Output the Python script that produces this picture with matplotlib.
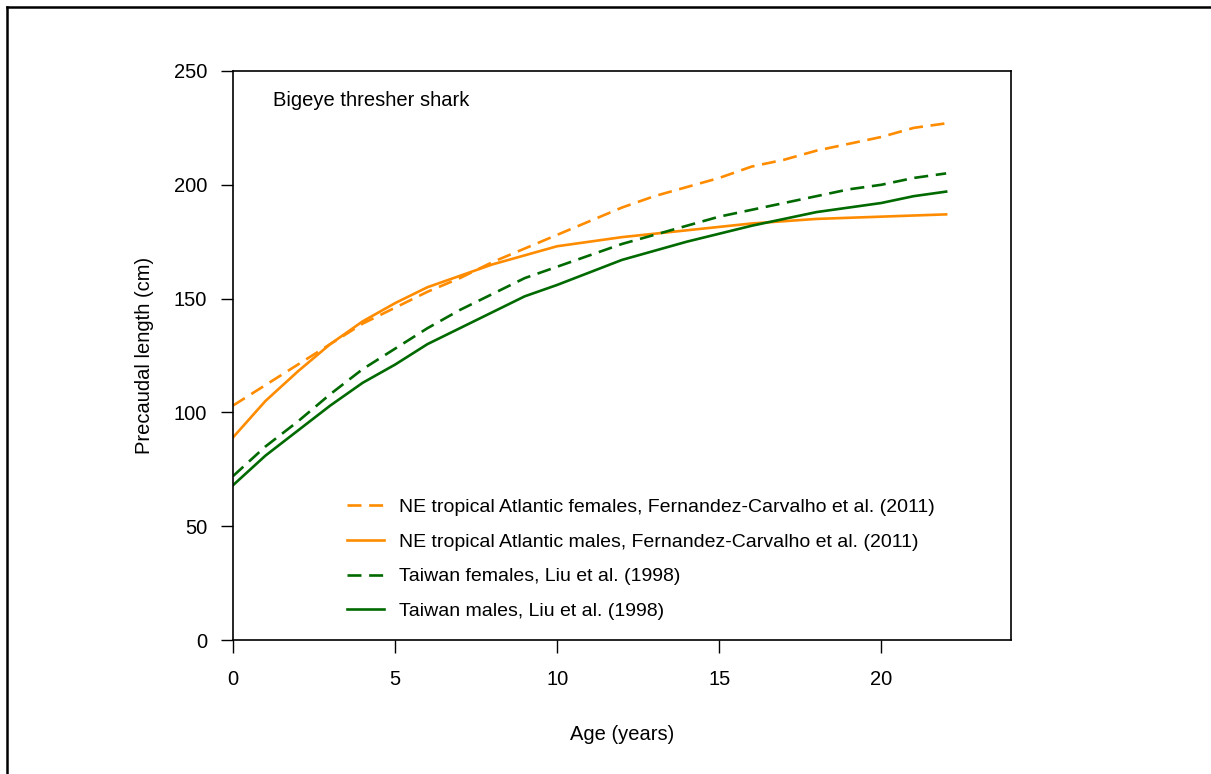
import matplotlib
matplotlib.use("Agg")
import matplotlib.pyplot as plt
from matplotlib.lines import Line2D

plt.rcParams['font.family'] = ['Liberation Sans', 'DejaVu Sans']

# Growth curves (precaudal length, cm) by age (years)
age_f_atl = [0, 1, 2, 3, 4, 5, 6, 7, 8, 9, 10, 11, 12, 13, 14, 15, 16, 17, 18, 19, 20, 21, 22]
len_f_atl = [103, 112, 121, 130, 139, 146, 153, 159, 166, 172, 178, 184, 190, 195, 199, 203, 208, 211, 215, 218, 221, 225, 227]

age_m_atl = [0, 1, 2, 3, 4, 5, 6, 7, 8, 9, 10, 12, 14, 16, 18, 20, 22]
len_m_atl = [89, 105, 118, 130, 140, 148, 155, 160, 165, 169, 173, 177, 180, 183, 185, 186, 187]

age_f_tw = [0, 1, 2, 3, 4, 5, 6, 7, 8, 9, 10, 11, 12, 13, 14, 15, 16, 17, 18, 19, 20, 21, 22]
len_f_tw = [72, 85, 96, 108, 119, 128, 137, 145, 152, 159, 164, 169, 174, 178, 182, 186, 189, 192, 195, 198, 200, 203, 205]

age_m_tw = [0, 1, 2, 3, 4, 5, 6, 7, 8, 9, 10, 12, 14, 16, 18, 20, 21, 22]
len_m_tw = [68, 81, 92, 103, 113, 121, 130, 137, 144, 151, 156, 167, 175, 182, 188, 192, 195, 197]

labels = [
    "NE tropical Atlantic females, Fernandez-Carvalho et al. (2011)",
    "NE tropical Atlantic males, Fernandez-Carvalho et al. (2011)",
    "Taiwan females, Liu et al. (1998)",
    "Taiwan males, Liu et al. (1998)",
]

xticks = [0, 5, 10, 15, 20]
yticks = [0, 50, 100, 150, 200, 250]

orange = "#ff8c00"
green = "#006a00"

fig = plt.figure(figsize=(12.11, 7.74), dpi=100)
ax = fig.add_axes([0.1924, 0.1731, 0.8348 - 0.1924, 0.9083 - 0.1731])

lw = 1.9
dash = (5.3, 2.9)
ax.plot(age_f_atl, len_f_atl, color=orange, lw=lw, dashes=dash, label=labels[0])
ax.plot(age_m_atl, len_m_atl, color=orange, lw=lw, label=labels[1])
ax.plot(age_f_tw, len_f_tw, color=green, lw=lw, dashes=dash, label=labels[2])
ax.plot(age_m_tw, len_m_tw, color=green, lw=lw, label=labels[3])

ax.set_xlim(0, 24)
ax.set_ylim(0, 250)
ax.set_xticks(xticks)
ax.set_yticks(yticks)
ax.tick_params(axis='both', direction='out', labelsize=14.5, width=1.0)
ax.tick_params(axis='x', length=9.5, pad=12)
ax.tick_params(axis='y', length=8.5, pad=10)
for s in ax.spines.values():
    s.set_linewidth(1.2)

ax.set_xlabel("Age (years)", fontsize=14.5, labelpad=26)
ax.set_ylabel("Precaudal length (cm)", fontsize=14.5, labelpad=14)

ax.text(1.24, 237, "Bigeye thresher shark", fontsize=14.5, va='center', ha='left')

ax.legend(loc='upper left', bbox_to_anchor=(0.1465, 0.249), frameon=False,
          fontsize=14, handlelength=1.9, handletextpad=0.8, labelspacing=0.88,
          borderpad=0, borderaxespad=0)

# Frame lines along the top and left figure edges
fig.add_artist(Line2D([7 / 1211, 7 / 1211], [0, 1 - 7 / 774], transform=fig.transFigure,
                      color='black', lw=1.8))
fig.add_artist(Line2D([7 / 1211, 1], [1 - 7 / 774, 1 - 7 / 774], transform=fig.transFigure,
                      color='black', lw=1.8))

fig.savefig("out.png", dpi=100)
